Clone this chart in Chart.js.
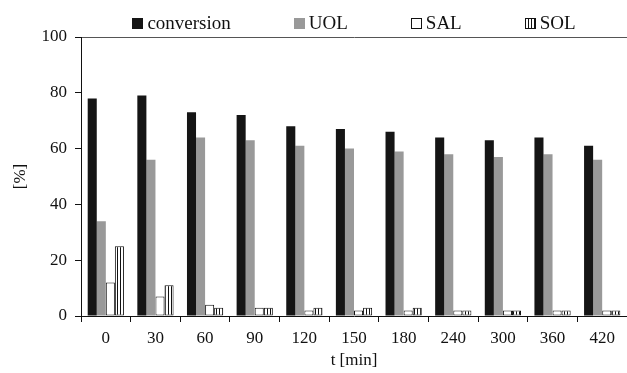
<!DOCTYPE html>
<html>
<head>
<meta charset="utf-8">
<script src="https://cdn.jsdelivr.net/npm/chart.js@4/dist/chart.umd.min.js"></script>
<style>
  html, body { margin: 0; padding: 0; background: #fff; }
  #wrap { width: 627px; height: 373px; }
</style>
</head>
<body>
<div id="wrap"><canvas id="c" width="627" height="373"></canvas></div>
<script>
// ---- data ----
const categories = ['0', '30', '60', '90', '120', '150', '180', '240', '300', '360', '420'];
const conversion = [78, 79, 73, 72, 68, 67, 66, 64, 63, 64, 61];
const uol        = [34, 56, 64, 63, 61, 60, 59, 58, 57, 58, 56];
const sal        = [12, 7, 4, 3, 2, 2, 2, 2, 2, 2, 2];
const sol        = [25, 11, 3, 3, 3, 3, 3, 2, 2, 2, 2];
const yTicks     = [0, 20, 40, 60, 80, 100];
const seriesNames = ['conversion', 'UOL', 'SAL', 'SOL'];

const SERIF = '"Liberation Serif", "DejaVu Serif", serif';

// vertical stripe pattern for SOL
function stripePattern(ctx) {
  const pc = document.createElement('canvas');
  pc.width = 3; pc.height = 4;
  const p = pc.getContext('2d');
  p.fillStyle = '#ffffff'; p.fillRect(0, 0, 3, 4);
  p.fillStyle = '#111111'; p.fillRect(0, 0, 1, 4);
  return ctx.createPattern(pc, 'repeat');
}

const canvas = document.getElementById('c');
const ctx = canvas.getContext('2d');
const solPattern = stripePattern(ctx);

// custom legend drawn above the plot, centred over the chart area
const legendPlugin = {
  id: 'customLegend',
  afterDraw(chart) {
    const c = chart.ctx;
    const area = chart.chartArea;
    c.save();
    c.font = '19px ' + SERIF;
    const box = 11, gapText = 4, gapItem = 63;
    const items = chart.data.datasets.map(ds => ({
      label: ds.label,
      fill: ds.backgroundColor,
      border: ds.borderWidth ? ds.borderColor : null,
      w: c.measureText(ds.label).width
    }));
    let total = 0;
    items.forEach((it, i) => { total += box + gapText + it.w + (i < items.length - 1 ? gapItem : 0); });
    let x = (area.left + area.right) / 2 - total / 2;
    const cy = 23;
    c.textBaseline = 'middle';
    c.textAlign = 'left';
    items.forEach(it => {
      const bx = Math.round(x), by = Math.round(cy - box / 2);
      c.fillStyle = it.fill;
      c.fillRect(bx, by, box, box);
      if (it.border) {
        c.strokeStyle = it.border;
        c.lineWidth = 1;
        c.strokeRect(bx + 0.5, by + 0.5, box - 1, box - 1);
      }
      c.fillStyle = '#111';
      c.fillText(it.label, x + box + gapText, cy + 1);
      x += box + gapText + it.w + gapItem;
    });
    c.restore();
  }
};

new Chart(ctx, {
  type: 'bar',
  data: {
    labels: categories,
    datasets: [
      { label: seriesNames[0], data: conversion, backgroundColor: '#151515', borderWidth: 0 },
      { label: seriesNames[1], data: uol, backgroundColor: '#999999', borderWidth: 0 },
      { label: seriesNames[2], data: sal, backgroundColor: '#ffffff', borderColor: '#111111', borderWidth: 1, borderSkipped: false },
      { label: seriesNames[3], data: sol, backgroundColor: solPattern, borderColor: '#111111', borderWidth: 1, borderSkipped: false }
    ]
  },
  options: {
    responsive: false,
    animation: false,
    layout: { padding: { top: 37, left: 0, right: 0, bottom: 0 } },
    datasets: { bar: { categoryPercentage: 0.73, barPercentage: 1.0 } },
    plugins: {
      legend: { display: false },
      tooltip: { enabled: false }
    },
    scales: {
      x: {
        offset: true,
        grid: { display: true, drawOnChartArea: false, tickLength: 6, tickColor: '#111', offset: true },
        border: { display: true, color: '#111', width: 1 },
        ticks: { font: { family: SERIF, size: 17 }, color: '#111', padding: 6, maxRotation: 0, autoSkip: false },
        title: { display: true, text: 't [min]', font: { family: SERIF, size: 17 }, color: '#111', padding: { top: 0, bottom: 2 } },
        afterFit(scale) { scale.height = 57; }
      },
      y: {
        min: 0, max: 100,
        afterBuildTicks(scale) { scale.ticks = yTicks.map(v => ({ value: v })); },
        grid: {
          drawOnChartArea: true,
          tickLength: 6,
          tickColor: '#111',
          color: (c) => (c.tick && c.tick.value === 100) ? '#555' : 'rgba(0,0,0,0)'
        },
        border: { display: true, color: '#111', width: 1 },
        ticks: { font: { family: SERIF, size: 17 }, color: '#111', padding: 8 },
        title: { display: true, text: '[%]', font: { family: SERIF, size: 17 }, color: '#111', padding: { top: 10, bottom: 0 } },
        afterFit(scale) { scale.width = 81; }
      }
    }
  },
  plugins: [legendPlugin]
});
</script>
</body>
</html>
